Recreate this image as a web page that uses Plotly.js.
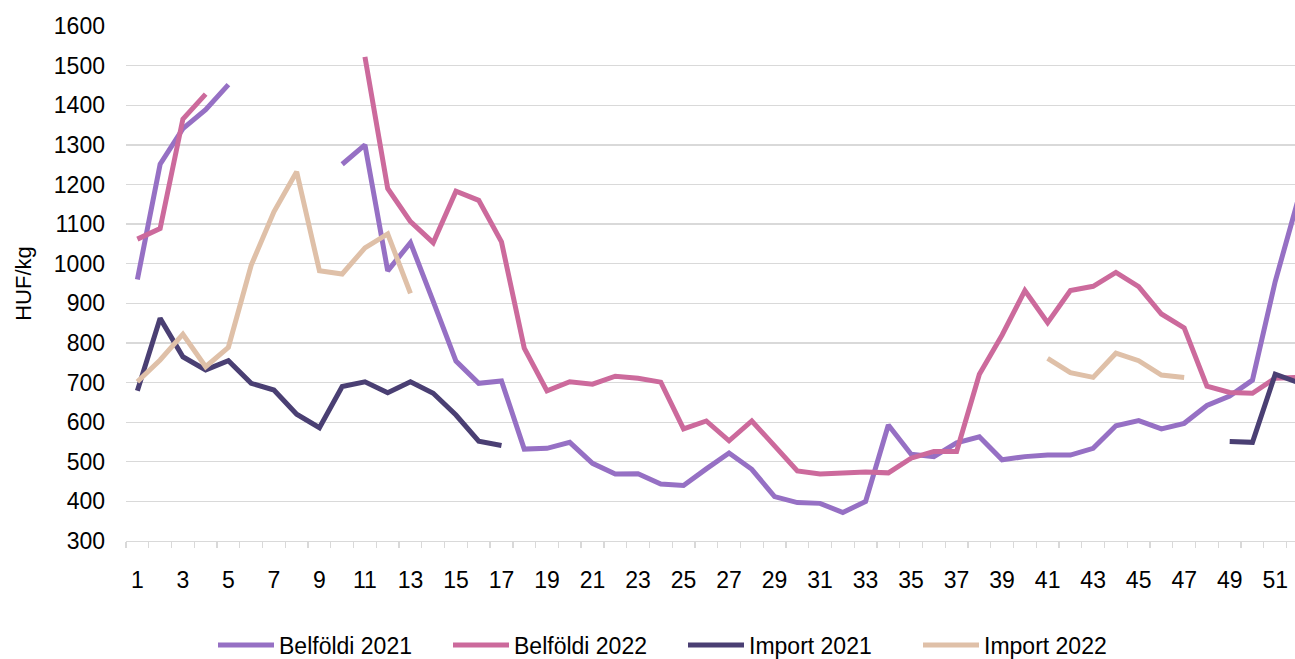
<!DOCTYPE html>
<html>
<head>
<meta charset="utf-8">
<script src="https://cdn.plot.ly/plotly-3.0.1.min.js"></script>
<style>
html,body{margin:0;padding:0;background:#fff;}
#chart{width:1295px;height:659px;}
</style>
</head>
<body>
<div id="chart"></div>
<script>
// Weeks 1..52
var weeks = [];
for (var w = 1; w <= 52; w++) weeks.push(w);

var tickWeeks = [1,3,5,7,9,11,13,15,17,19,21,23,25,27,29,31,33,35,37,39,41,43,45,47,49,51];
var yTicks = [300,400,500,600,700,800,900,1000,1100,1200,1300,1400,1500,1600];

var belfoldi2021 = [960,1251,1341,1389,1452,null,null,null,null,1251,
  1300,982,1053,905,754,698,704,532,534,549,
  496,469,470,444,440,482,522,481,412,397,
  395,372,400,593,519,513,548,563,505,513,
  517,517,534,591,604,583,597,642,666,706,
  955,1160];

var belfoldi2022 = [1062,1089,1365,1428,null,null,null,null,null,null,
  1522,1190,1106,1053,1183,1160,1055,787,679,702,
  696,716,711,701,583,603,553,603,540,477,
  469,471,474,472,509,526,526,721,820,932,
  851,932,943,978,942,873,838,691,675,673,
  711,713];

var import2021 = [679,862,765,732,755,698,681,620,586,690,
  702,674,702,673,618,552,541,null,null,null,
  null,null,null,null,null,null,null,null,null,null,
  null,null,null,null,null,null,null,null,null,null,
  null,null,null,null,null,null,null,null,551,549,
  721,700];

var import2022 = [702,757,822,740,789,996,1131,1232,982,974,
  1040,1075,925,null,null,null,null,null,null,null,
  null,null,null,null,null,null,null,null,null,null,
  null,null,null,null,null,null,null,null,null,null,
  761,725,713,774,755,719,713,null,null,null,
  null,null];

var seriesNames = ['Belföldi 2021','Belföldi 2022','Import 2021','Import 2022'];
var seriesColors = ['#9670C4','#CC6A9C','#4A3F73','#DFC0A8'];
var seriesData = [belfoldi2021, belfoldi2022, import2021, import2022];

var traces = seriesData.map(function(d, i){
  return {
    x: weeks, y: d, type: 'scatter', mode: 'lines', name: seriesNames[i],
    connectgaps: false,
    line: {color: seriesColors[i], width: 5, shape: 'linear'},
    hoverinfo: 'x+y+name'
  };
});

var FONT = 'Liberation Sans, Arial, sans-serif';

var layout = {
  width: 1295, height: 659,
  margin: {l: 126, r: 0, t: 26, b: 118, pad: 0},
  paper_bgcolor: '#ffffff', plot_bgcolor: '#ffffff',
  font: {family: FONT, size: 23, color: '#000000'},
  showlegend: true,
  legend: {
    orientation: 'h', xref: 'container', yref: 'container',
    x: 213/1295, xanchor: 'left', y: 14/659, yanchor: 'middle',
    font: {family: FONT, size: 23, color: '#000000'},
    entrywidth: 164, entrywidthmode: 'pixels',
    itemwidth: 56, bgcolor: 'rgba(0,0,0,0)', borderwidth: 0
  },
  xaxis: {
    range: [0.5, 51.87], type: 'linear', fixedrange: true,
    tickmode: 'array', tickvals: tickWeeks, ticktext: tickWeeks.map(String),
    ticks: '', showgrid: false, zeroline: false,
    showline: true, linecolor: '#D9D9D9', linewidth: 1.3,
    ticklabelstandoff: 18,
    tickfont: {family: FONT, size: 23, color: '#000000'},
    minor: {tick0: 0.5, dtick: 1, ticks: 'outside', ticklen: 6, tickcolor: '#D9D9D9', tickwidth: 1.3, showgrid: false}
  },
  yaxis: {
    range: [300, 1600], fixedrange: true,
    tickmode: 'array', tickvals: yTicks, ticktext: yTicks.map(String),
    ticks: '', showgrid: true, gridcolor: '#D9D9D9', gridwidth: 1.3,
    zeroline: false, showline: false,
    ticklabelstandoff: 20,
    tickfont: {family: FONT, size: 23, color: '#000000'},
    title: {text: 'HUF/kg', font: {family: FONT, size: 22, color: '#000000'}, standoff: 16}
  }
};

Plotly.newPlot('chart', traces, layout, {displayModeBar: false, staticPlot: true});
</script>
</body>
</html>
